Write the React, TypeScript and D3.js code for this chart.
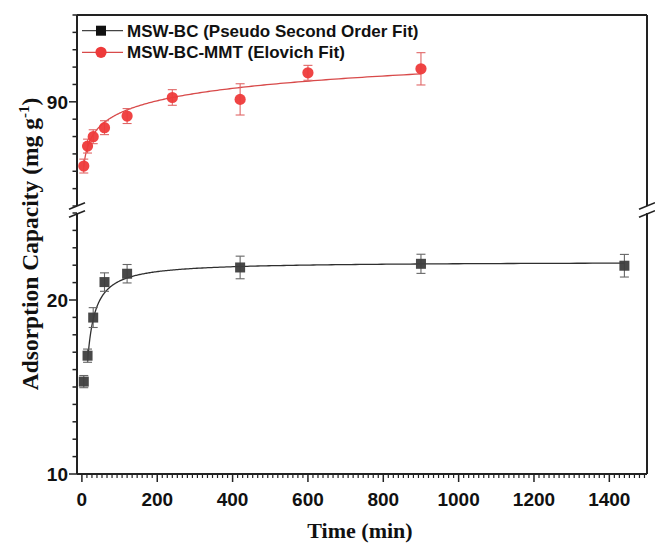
import React from "react";
import * as d3 from "d3";

// ---- Data ----
const bcTime = [5, 15, 30, 60, 120, 420, 900, 1440];
const bcQ = [15.31, 16.8, 18.99, 21.03, 21.51, 21.87, 22.08, 21.97];
const bcErr = [0.35, 0.38, 0.57, 0.53, 0.53, 0.65, 0.55, 0.65];

const mmtTime = [5, 15, 30, 60, 120, 240, 420, 600, 900];
const mmtQ = [86.3, 87.45, 87.99, 88.51, 89.18, 90.25, 90.14, 91.67, 91.9];
const mmtErr = [0.4, 0.4, 0.4, 0.4, 0.43, 0.45, 0.9, 0.43, 0.93];

// Fit parameters
const psoQe = 22.2;
const psoK = 0.00856;
const psoRange = [15, 1440];
const elovichBeta = 0.971;
const elovichAlpha = 4.9e35;
const elovichRange = [5, 900];

const xTicks = [0, 200, 400, 600, 800, 1000, 1200, 1400];
const yLowerLabels = [10, 20];
const yUpperLabels = [90];
const legendLabels = ["MSW-BC (Pseudo Second Order Fit)", "MSW-BC-MMT (Elovich Fit)"];

// ---- Layout ----
const W = 655, H = 545;
const L = 77, R = 647, T = 15, B = 474;
const upperBottom = 206, lowerTop = 213;

const x = d3.scaleLinear().domain([-13, 1500]).range([L, R]);
const yU = d3.scaleLinear().domain([84, 95]).range([upperBottom, T]);
const yL = d3.scaleLinear().domain([10, 25]).range([B, lowerTop]);

const pso = (t: number) => (psoQe * psoQe * psoK * t) / (1 + psoQe * psoK * t);
const elovich = (t: number) => (1 / elovichBeta) * Math.log(1 + elovichAlpha * elovichBeta * t);

const sampleT = (a: number, b: number) => {
  const n = 300;
  const la = Math.log(a), lb = Math.log(b);
  return d3.range(n + 1).map((i) => Math.exp(la + ((lb - la) * i) / n));
};

const frameColor = "#222";
const blackColor = "#3e3e3e";
const redColor = "#ee3a3a";
const tickFont = "'Liberation Sans', Arial, sans-serif";
const titleFont = "'Liberation Serif', 'Times New Roman', serif";

function BreakMarks({ cx }: { cx: number }) {
  const ys = [upperBottom, lowerTop + 1];
  return (
    <g>
      <rect x={cx - 3} y={upperBottom} width={6} height={lowerTop - upperBottom} fill="white" />
      {ys.map((yy, i) => (
        <line key={i} x1={cx - 8} y1={yy + 3.3} x2={cx + 8} y2={yy - 3.3} stroke={frameColor} strokeWidth={1.6} />
      ))}
    </g>
  );
}

export default function App() {
  const psoLine = d3
    .line<number>()
    .x((t) => x(t))
    .y((t) => yL(pso(t)))(sampleT(psoRange[0], psoRange[1]));
  const eloLine = d3
    .line<number>()
    .x((t) => x(t))
    .y((t) => yU(elovich(t)))(sampleT(elovichRange[0], elovichRange[1]));

  const xMinor: number[] = [];
  for (let k = 1; k * (200 / 15) <= 1500; k++) {
    const v = (k * 200) / 15;
    if (k % 15 !== 0) xMinor.push(v);
  }
  const yUTicks = d3.range(84, 96);
  const yLTicks = d3.range(10, 26);

  return (
    <svg width={W} height={H} style={{ position: "absolute", left: 0, top: 0, background: "white" }}>
      {/* fit curves */}
      <path d={psoLine || ""} fill="none" stroke="#2f2f2f" strokeWidth={1.3} />
      <path d={eloLine || ""} fill="none" stroke="#d84a4a" strokeWidth={1.3} />

      {/* black series */}
      {bcTime.map((t, i) => {
        const cx = x(t);
        const y1 = yL(bcQ[i] + bcErr[i]);
        const y2 = yL(bcQ[i] - bcErr[i]);
        return (
          <g key={"bc" + i} stroke="#666" strokeWidth={1.1}>
            <line x1={cx} x2={cx} y1={y1} y2={y2} />
            <line x1={cx - 4.5} x2={cx + 4.5} y1={y1} y2={y1} />
            <line x1={cx - 4.5} x2={cx + 4.5} y1={y2} y2={y2} />
          </g>
        );
      })}
      {bcTime.map((t, i) => (
        <rect key={"bcm" + i} x={x(t) - 5} y={yL(bcQ[i]) - 5} width={10} height={10} fill={blackColor} fillOpacity={0.95} />
      ))}

      {/* red series */}
      {mmtTime.map((t, i) => {
        const cx = x(t);
        const y1 = yU(mmtQ[i] + mmtErr[i]);
        const y2 = yU(mmtQ[i] - mmtErr[i]);
        return (
          <g key={"m" + i} stroke="#e06666" strokeWidth={1.1}>
            <line x1={cx} x2={cx} y1={y1} y2={y2} />
            <line x1={cx - 4.5} x2={cx + 4.5} y1={y1} y2={y1} />
            <line x1={cx - 4.5} x2={cx + 4.5} y1={y2} y2={y2} />
          </g>
        );
      })}
      {mmtTime.map((t, i) => (
        <circle key={"mm" + i} cx={x(t)} cy={yU(mmtQ[i])} r={5.6} fill={redColor} fillOpacity={0.95} />
      ))}

      {/* frame */}
      <g stroke={frameColor} strokeWidth={2} fill="none">
        <line x1={L} x2={R} y1={T} y2={T} />
        <line x1={L} x2={R} y1={B} y2={B} />
        <line x1={L} x2={L} y1={T} y2={upperBottom} />
        <line x1={L} x2={L} y1={lowerTop} y2={B} />
        <line x1={R} x2={R} y1={T} y2={upperBottom} />
        <line x1={R} x2={R} y1={lowerTop} y2={B} />
      </g>
      <BreakMarks cx={L} />
      <BreakMarks cx={R} />

      {/* ticks */}
      <g stroke={frameColor} strokeWidth={1.5}>
        {yUTicks.map((v) => (
          <line key={"yu" + v} x1={L} x2={L - (yUpperLabels.includes(v) ? 8 : 4.5)} y1={yU(v)} y2={yU(v)} />
        ))}
        {yLTicks.map((v) => (
          <line key={"yl" + v} x1={L} x2={L - (yLowerLabels.includes(v) ? 8 : 4.5)} y1={yL(v)} y2={yL(v)} />
        ))}
        {xTicks.map((v) => (
          <line key={"xt" + v} x1={x(v)} x2={x(v)} y1={B} y2={B + 8} />
        ))}
        {xMinor.map((v) => (
          <line key={"xm" + v} x1={x(v)} x2={x(v)} y1={B} y2={B + 4} strokeWidth={1.2} />
        ))}
      </g>

      {/* tick labels */}
      <g fontFamily={tickFont} fontWeight="bold" fontSize={19} fill="#111">
        {xTicks.map((v) => (
          <text key={"xl" + v} x={x(v)} y={506} textAnchor="middle">
            {v}
          </text>
        ))}
        {yUpperLabels.map((v) => (
          <text key={"yul" + v} x={L - 9} y={yU(v)} dy="0.36em" textAnchor="end">
            {v}
          </text>
        ))}
        {yLowerLabels.map((v) => (
          <text key={"yll" + v} x={L - 9} y={yL(v)} dy="0.36em" textAnchor="end">
            {v}
          </text>
        ))}
      </g>

      {/* axis titles */}
      <text x={360} y={538} textAnchor="middle" fontFamily={titleFont} fontWeight="bold" fontSize={22} fill="#111">
        Time (min)
      </text>
      <text
        transform={`translate(38, 244) rotate(-90)`}
        textAnchor="middle"
        fontFamily={titleFont}
        fontWeight="bold"
        fontSize={23.5}
        fill="#111"
      >
        Adsorption Capacity (mg g
        <tspan dy={-9} fontSize={15}>-1</tspan>
        <tspan dy={9}>)</tspan>
      </text>

      {/* legend */}
      <g fontFamily={tickFont} fontWeight="bold" fontSize={17} fill="#111">
        <line x1={82} x2={123} y1={30.7} y2={30.7} stroke="#444" strokeWidth={1.2} />
        <rect x={101 - 5} y={30.7 - 5} width={10} height={10} fill="#111" />
        <text x={127} y={30.7} dy="0.36em">{legendLabels[0]}</text>
        <line x1={82} x2={123} y1={52.3} y2={52.3} stroke="#d84a4a" strokeWidth={1.2} />
        <circle cx={101} cy={52.3} r={5.6} fill={redColor} />
        <text x={127} y={52.3} dy="0.36em">{legendLabels[1]}</text>
      </g>
    </svg>
  );
}
